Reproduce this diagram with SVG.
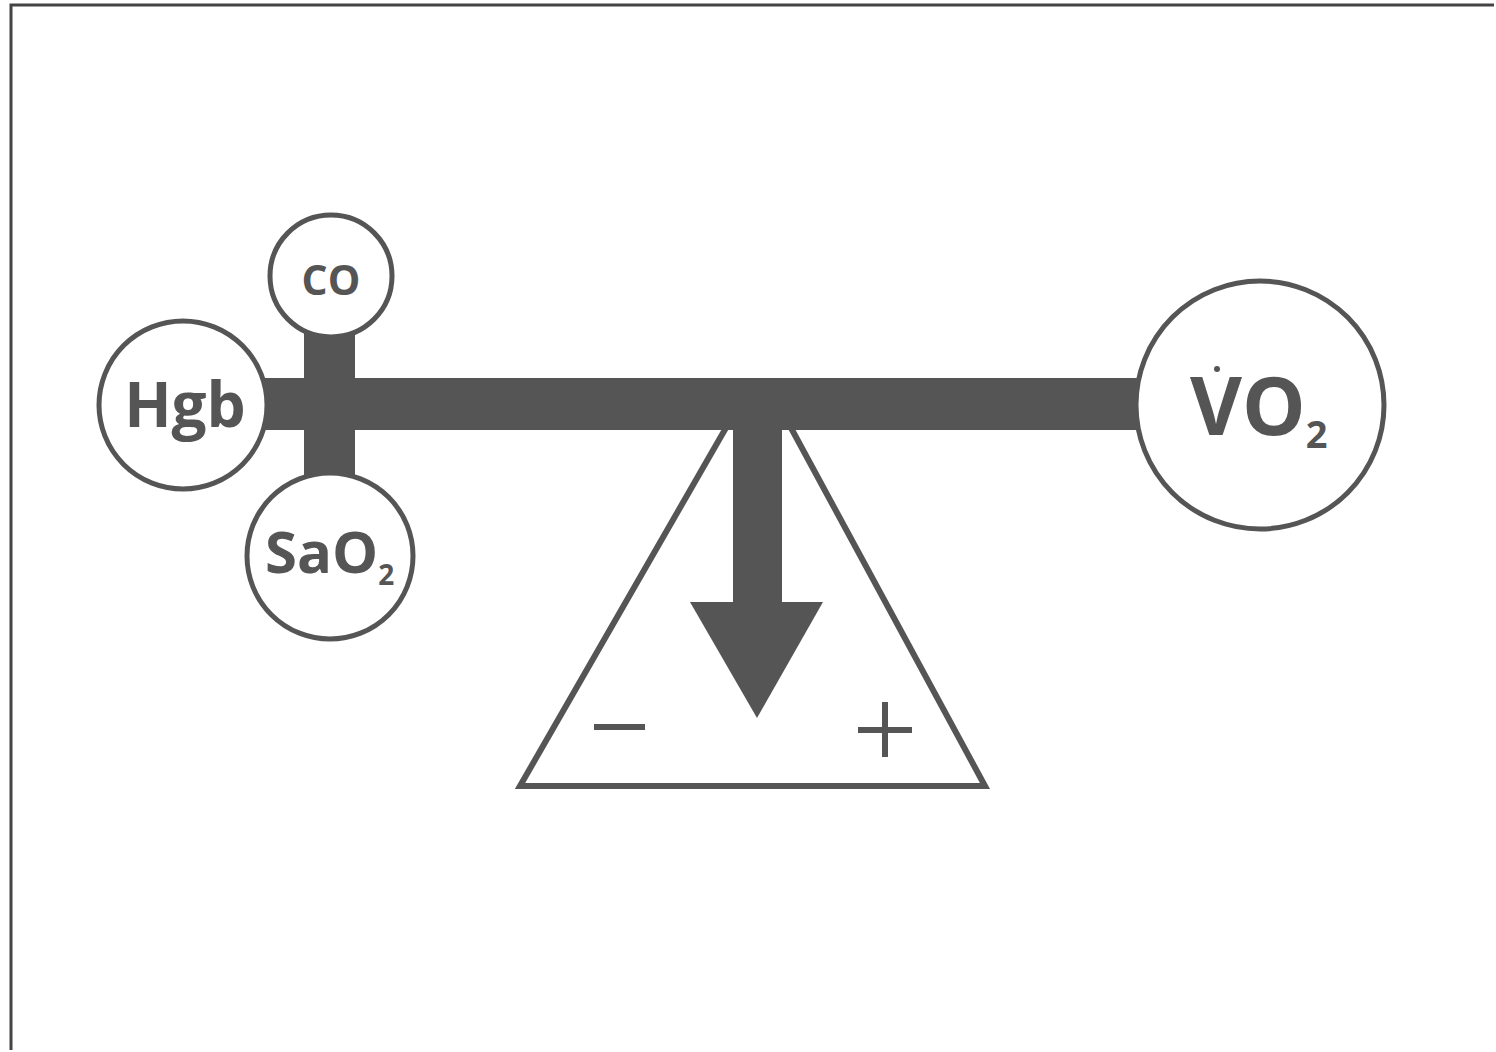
<svg xmlns="http://www.w3.org/2000/svg" width="1496" height="1052" viewBox="0 0 1496 1052">
<style>
.node{fill:#fff;stroke:#555;stroke-width:5}
.lbl{font-family:"Open Sans","Liberation Sans",sans-serif;font-weight:bold;fill:#555}
.bar{fill:#555}
.line{stroke:#555;fill:none}
</style>
<rect x="0" y="0" width="1496" height="1052" fill="#fff"/>
<path d="M11 1050 V5 H1494" fill="none" stroke="#444" stroke-width="3"/>
<g id="fulcrum">
<path d="M727,426 L520,786 L985,786 L790,426" fill="#fff" stroke="#555" stroke-width="6" stroke-linejoin="miter"/>
<line class="line" x1="594" y1="727" x2="645" y2="727" stroke-width="6"/>
<line class="line" x1="858" y1="730" x2="912" y2="730" stroke-width="6"/>
<line class="line" x1="885" y1="702" x2="885" y2="757" stroke-width="6"/>
</g>
<g id="connectors">
<rect class="bar" x="262" y="378" width="880" height="52"/>
<rect class="bar" x="304" y="330" width="51" height="145"/>
<rect class="bar" x="733" y="420" width="49" height="184"/>
<polygon class="bar" points="690,602 823,602 757,718"/>
</g>
<g id="co">
<circle class="node" cx="331" cy="276" r="61"/>
<text class="lbl" x="331" y="295" font-size="41" text-anchor="middle">CO</text>
</g>
<g id="hgb">
<circle class="node" cx="183" cy="405" r="84"/>
<text class="lbl" x="185" y="427" font-size="62" text-anchor="middle">Hgb</text>
</g>
<g id="sao2">
<circle class="node" cx="330" cy="556" r="83"/>
<text class="lbl" x="265" y="573" font-size="58">SaO<tspan font-size="28" dy="12">2</tspan></text>
</g>
<g id="vo2">
<circle class="node" cx="1260" cy="405" r="124"/>
<text class="lbl" x="1190" y="435" font-size="80">VO<tspan font-size="38" dy="13">2</tspan></text>
<circle cx="1217" cy="369" r="3" fill="#555"/>
</g>
</svg>
